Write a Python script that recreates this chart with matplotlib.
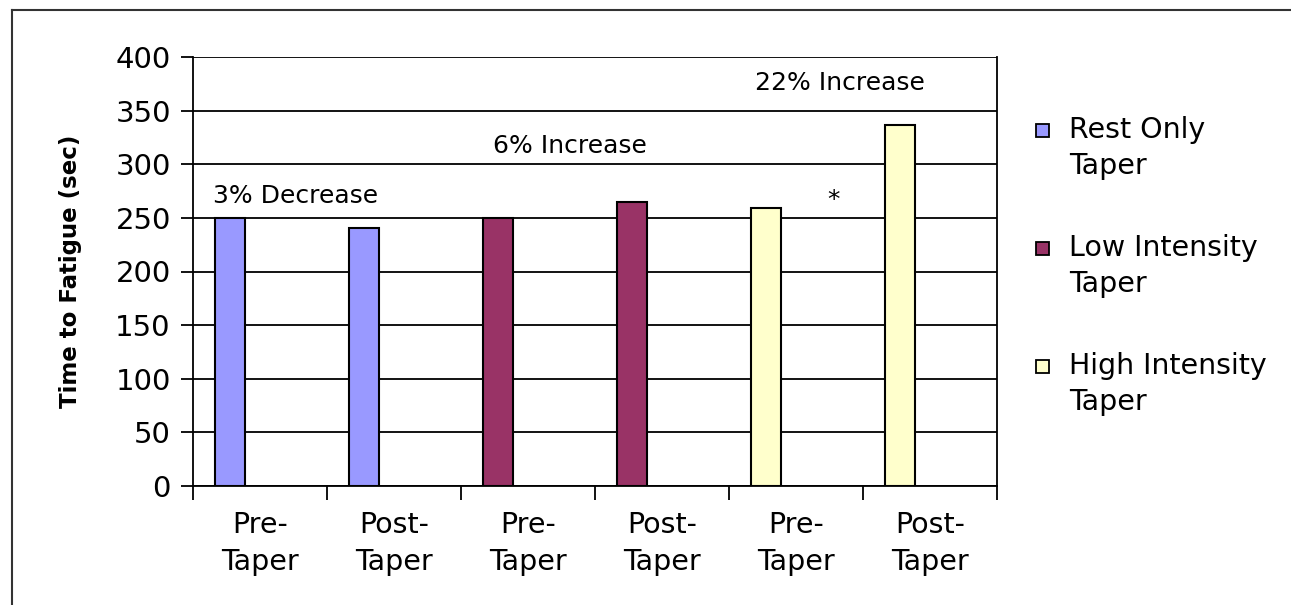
import matplotlib
matplotlib.use('Agg')
import matplotlib.pyplot as plt
from matplotlib.patches import Rectangle

plt.rcParams['font.family'] = ['DejaVu Sans']

# data
cats = ['Pre-\nTaper', 'Post-\nTaper', 'Pre-\nTaper', 'Post-\nTaper', 'Pre-\nTaper', 'Post-\nTaper']
values = [250, 241, 250, 265, 259, 337]
groups = [0, 0, 1, 1, 2, 2]  # which taper each bar belongs to
series = ['Rest Only\nTaper', 'Low Intensity\nTaper', 'High Intensity\nTaper']
colors = ['#9999FF', '#993366', '#FFFFCC']
notes = ['3% Decrease', '6% Increase', '22% Increase']
yticks = [0, 50, 100, 150, 200, 250, 300, 350, 400]

W, H = 1291, 605
fig = plt.figure(figsize=(W / 100, H / 100), dpi=100)
ax = fig.add_axes([193 / W, 1 - 486 / H, (997 - 193) / W, (486 - 57) / H])

# bars sit at the left of each category slot (excel style grouping)
w = 0.224
for i, v in enumerate(values):
    ax.bar(i - w, v, width=w, color=colors[groups[i]], edgecolor='black', linewidth=1.5, zorder=3)

ax.set_xlim(-0.5, len(cats) - 0.5)
ax.set_ylim(0, 400)
ax.set_yticks(yticks)
ax.yaxis.grid(True, color='black', linewidth=1.3, zorder=0)
ax.set_axisbelow(True)
ax.tick_params(axis='y', labelsize=21, length=9, width=1.3, direction='out', pad=7)

# x ticks at the slot borders, labels at the centres
ax.set_xticks([i - 0.5 for i in range(len(cats) + 1)])
ax.set_xticklabels([])
ax.set_xticks(range(len(cats)), minor=True)
ax.set_xticklabels(cats, minor=True, fontsize=20.5, linespacing=1.4)
ax.tick_params(axis='x', which='minor', length=0, pad=18)
ax.tick_params(axis='x', which='major', length=10, width=1.3, direction='out')

for s in ax.spines.values():
    s.set_linewidth(1.3)
ax.spines['top'].set_visible(False)

ax.set_ylabel('Time to Fatigue (sec)', fontsize=16.5, fontweight='bold', labelpad=24)

# annotations
ax.text(-0.35, 270, notes[0], fontsize=18, ha='left', va='center')
ax.text(2.31, 317, notes[1], fontsize=18, ha='center', va='center')
ax.text(4.33, 376, notes[2], fontsize=18, ha='center', va='center')
ax.text(4.28, 267, '*', fontsize=18, ha='center', va='center')

# legend, drawn by hand so the key lines up with the first text line
for k, name in enumerate(series):
    yc = 130 + 118 * k
    fig.add_artist(Rectangle((1036 / W, 1 - (yc + 7) / H), 13 / W, 13 / H, transform=fig.transFigure,
                             facecolor=colors[k], edgecolor='black', linewidth=1.3))
    fig.text(1069 / W, 1 - (yc + 18) / H, name, fontsize=20.5, ha='left', va='center', linespacing=1.35)

# outer frame of the picture
fig.add_artist(plt.Line2D([12 / W, 1.0], [1 - 10 / H, 1 - 10 / H], color='#333333', linewidth=1.5))
fig.add_artist(plt.Line2D([12 / W, 12 / W], [0.0, 1 - 10 / H], color='#333333', linewidth=1.5))

fig.savefig('out.png', dpi=100)
